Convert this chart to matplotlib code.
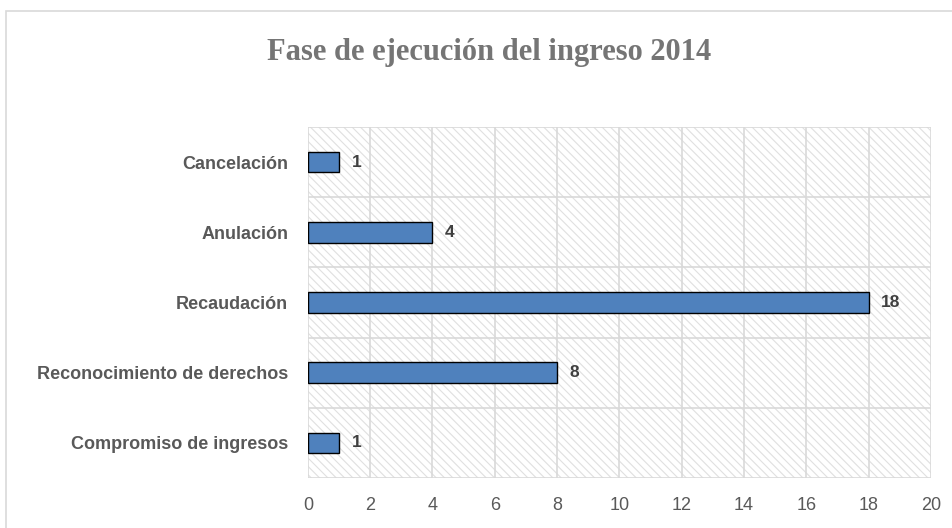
import matplotlib.pyplot as plt
from matplotlib.patches import Rectangle

categories = ['Compromiso de ingresos', 'Reconocimiento de derechos', 'Recaudación',
              'Anulación', 'Cancelación']
values = [1, 8, 18, 4, 1]
xticks = [0, 2, 4, 6, 8, 10, 12, 14, 16, 18, 20]

plt.rcParams['hatch.linewidth'] = 0.8
plt.rcParams['font.family'] = ['Liberation Sans', 'DejaVu Sans']

fig = plt.figure(figsize=(9.53, 5.28), dpi=100)
# outer chart border
fig.patches.append(Rectangle((0.006, -0.01), 1.1, 0.99, transform=fig.transFigure,
                             fill=False, edgecolor='#d9d9d9', linewidth=1.2))

ax = fig.add_axes([0.323, 0.095, 0.654, 0.664])
ax.set_facecolor('white')
ax.add_patch(Rectangle((0, 0), 1, 1, transform=ax.transAxes, facecolor='white',
                       edgecolor='#e0e0e0', hatch='\\\\\\\\', linewidth=0, zorder=0))

y = range(len(categories))
ax.barh(y, values, height=0.29, color='#4f81bd', edgecolor='black', linewidth=1.0, zorder=3)
for yi, v in zip(y, values):
    ax.text(v + 0.4, yi, str(v), va='center', ha='left', fontsize=12.5,
            fontweight='bold', color='#404040', zorder=4)

ax.set_xlim(0, 20)
ax.set_ylim(-0.5, len(categories) - 0.5)
ax.set_xticks(xticks)
ax.set_yticks(list(y))
ax.set_yticklabels(categories, fontsize=13, fontweight='bold', color='#595959')
ax.tick_params(axis='x', labelsize=13, labelcolor='#595959', length=0, pad=14)
ax.tick_params(axis='y', length=0, pad=14)

ax.set_yticks([i - 0.5 for i in range(len(categories) + 1)], minor=True)
ax.grid(True, axis='x', color='#d9d9d9', linewidth=1.2, zorder=1)
ax.grid(True, axis='y', which='minor', color='#d9d9d9', linewidth=1.2, zorder=1)
ax.tick_params(axis='y', which='minor', length=0)
for s in ax.spines.values():
    s.set_visible(False)

fig.text(0.513, 0.90, 'Fase de ejecución del ingreso 2014', ha='center', va='center',
         fontsize=22, fontweight='bold', color='#757575', family='Liberation Serif')

fig.savefig('out.png', dpi=100)
